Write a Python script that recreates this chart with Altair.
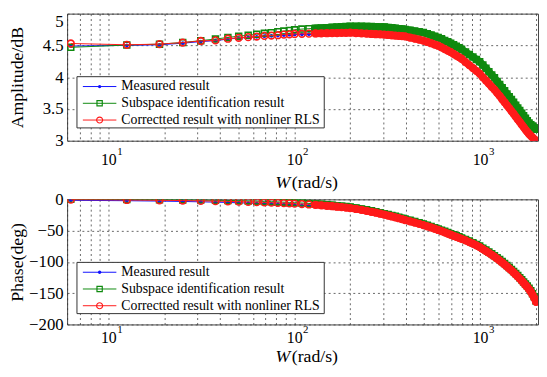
import altair as alt
import pandas as pd

# ---------------- data ----------------
W = [6.28, 12.57, 18.85, 25.13, 31.42, 37.70, 43.98, 50.27, 56.55, 62.83, 69.12, 75.40, 81.68, 87.96, 94.25, 100.5,
     110, 120, 130, 140, 150, 160, 170, 180, 190, 200,
     215, 230, 245, 260, 275, 290, 305, 320, 335, 350, 365, 380, 395,
     420, 445, 470, 495, 520, 545, 570, 595, 620, 645, 670, 695, 720, 745, 770, 795,
     835, 875, 915, 955, 995, 1035, 1075, 1115, 1155, 1195, 1235, 1275, 1315, 1355, 1395,
     1435, 1475, 1515, 1555, 1595, 1635, 1675, 1715, 1755, 1795, 1835, 1875, 1915, 1955, 2000]

amp_measured = [4.49, 4.50, 4.51, 4.535, 4.56, 4.575, 4.60, 4.615, 4.625, 4.635, 4.645, 4.65, 4.655, 4.663, 4.668, 4.672,
                4.675, 4.677, 4.679, 4.681, 4.683, 4.685, 4.686, 4.688, 4.689, 4.69,
                4.686, 4.681, 4.676, 4.671, 4.667, 4.663, 4.659, 4.654, 4.649, 4.644, 4.64, 4.635, 4.63,
                4.613, 4.595, 4.579, 4.562, 4.542, 4.522, 4.501, 4.481, 4.456, 4.429, 4.403, 4.378, 4.351, 4.323, 4.297, 4.271,
                4.217, 4.169, 4.123, 4.077, 4.033, 3.975, 3.925, 3.875, 3.825, 3.782, 3.73, 3.682, 3.63, 3.583, 3.535,
                3.491, 3.446, 3.404, 3.358, 3.316, 3.277, 3.235, 3.197, 3.159, 3.123, 3.092, 3.065, 3.04, 3.02, 3.0]

amp_subspace = [4.47, 4.505, 4.52, 4.545, 4.575, 4.60, 4.625, 4.645, 4.66, 4.675, 4.69, 4.70, 4.715, 4.725, 4.735, 4.745,
                4.757, 4.763, 4.769, 4.774, 4.779, 4.784, 4.788, 4.792, 4.796, 4.80,
                4.80, 4.80, 4.798, 4.796, 4.793, 4.791, 4.789, 4.783, 4.776, 4.770, 4.764, 4.758, 4.752,
                4.739, 4.726, 4.714, 4.702, 4.684, 4.664, 4.644, 4.625, 4.603, 4.579, 4.557, 4.534, 4.51, 4.486, 4.463, 4.44,
                4.396, 4.356, 4.318, 4.28, 4.244, 4.191, 4.14, 4.087, 4.036, 3.99, 3.934, 3.885, 3.834, 3.785, 3.737,
                3.692, 3.647, 3.604, 3.557, 3.514, 3.475, 3.432, 3.392, 3.353, 3.316, 3.28, 3.25, 3.23, 3.205, 3.18]

amp_corrected = [4.53, 4.51, 4.52, 4.545, 4.57, 4.58, 4.605, 4.62, 4.63, 4.64, 4.65, 4.655, 4.66, 4.67, 4.675, 4.68,
                 4.683, 4.685, 4.688, 4.69, 4.692, 4.694, 4.695, 4.697, 4.698, 4.70,
                 4.695, 4.69, 4.685, 4.68, 4.676, 4.673, 4.669, 4.664, 4.659, 4.654, 4.65, 4.645, 4.641,
                 4.624, 4.606, 4.59, 4.574, 4.554, 4.534, 4.514, 4.495, 4.47, 4.443, 4.418, 4.394, 4.367, 4.34, 4.315, 4.29,
                 4.237, 4.189, 4.144, 4.098, 4.055, 3.997, 3.948, 3.898, 3.848, 3.805, 3.753, 3.705, 3.653, 3.605, 3.557,
                 3.513, 3.467, 3.425, 3.378, 3.335, 3.296, 3.253, 3.214, 3.175, 3.138, 3.106, 3.078, 3.051, 3.024, 3.0]

ph_measured = [-1.5, -2.2, -2.8, -3.4, -4.0, -4.5, -5.0, -5.5, -6.0, -6.5, -7.0, -7.4, -7.8, -8.2, -8.6, -9.0,
               -9.5, -10.1, -10.7, -11.3, -11.9, -12.5, -13.2, -13.8, -14.4, -15.1,
               -16.4, -17.8, -19.2, -20.7, -22.1, -23.6, -25.1, -26.5, -27.9, -29.3, -30.7, -32.2, -33.6,
               -35.7, -37.6, -39.6, -41.6, -43.6, -45.5, -47.5, -49.5, -51.4, -53.3, -55.2, -57.1, -58.8, -60.4, -62.0, -63.7,
               -66.2, -68.8, -71.4, -74.1, -76.8, -80.1, -83.1, -86.1, -89.1, -92.2, -95.3, -98.4, -101.5, -104.7, -107.8,
               -111.0, -114.1, -117.4, -120.7, -124.0, -127.3, -130.7, -134.1, -137.5, -140.7, -144.3, -148.2, -152.9, -158.0, -164.5]

ph_subspace = [0.0, -0.3, -0.6, -0.9, -1.2, -1.5, -1.8, -2.1, -2.5, -2.9, -3.3, -3.7, -4.1, -4.5, -4.9, -5.3,
               -5.9, -6.6, -7.3, -8.0, -8.7, -9.4, -10.2, -10.9, -11.6, -12.4,
               -13.8, -15.3, -16.8, -18.3, -19.8, -21.4, -22.9, -24.3, -25.8, -27.2, -28.6, -30.1, -31.5,
               -33.6, -35.5, -37.5, -39.5, -41.5, -43.4, -45.4, -47.4, -49.3, -51.2, -53.1, -55.0, -56.7, -58.3, -59.9, -61.6,
               -64.1, -66.7, -69.3, -72.0, -74.7, -78.0, -81.0, -84.0, -87.0, -90.1, -93.2, -96.3, -99.4, -102.6, -105.7,
               -108.9, -112.0, -115.3, -118.6, -121.9, -125.2, -128.6, -132.0, -135.4, -138.6, -142.2, -146.1, -150.8, -155.9, -162.4]

ph_corrected = [-0.5, -1.0, -1.5, -2.0, -2.5, -2.9, -3.3, -3.7, -4.1, -4.5, -4.9, -5.3, -5.7, -6.1, -6.5, -6.9,
                -7.5, -8.2, -8.9, -9.6, -10.3, -11.0, -11.8, -12.5, -13.2, -14.0,
                -15.4, -16.9, -18.4, -19.9, -21.4, -23.0, -24.5, -25.9, -27.4, -28.8, -30.2, -31.7, -33.1,
                -35.2, -37.1, -39.1, -41.1, -43.1, -45.0, -47.0, -49.0, -50.9, -52.8, -54.7, -56.6, -58.3, -59.9, -61.5, -63.2,
                -65.7, -68.3, -70.9, -73.6, -76.3, -79.6, -82.6, -85.6, -88.6, -91.7, -94.8, -97.9, -101.0, -104.2, -107.3,
                -110.5, -113.6, -116.9, -120.2, -123.5, -126.8, -130.2, -133.6, -137.0, -140.2, -143.8, -147.7, -152.4, -157.5, -164.0]

series_names = ["Measured result", "Subspace identification result", "Correctted result with nonliner RLS"]

x_grid_values = [6, 7, 8, 9, 10, 20, 30, 40, 50, 60, 70, 80, 90, 100,
                 200, 300, 400, 500, 600, 700, 800, 900, 1000, 2000]
x_label_decades = [10, 100, 1000]
x_label_exponents = ["1", "2", "3"]
amp_ticks = [3, 3.5, 4, 4.5, 5]
phase_ticks = [0, -50, -100, -150, -200]

# ---------------- styling ----------------
FONT = "Liberation Serif"
COLORS = ["#1010ff", "#0f8a0f", "#ff1a1a"]
SHAPES = ["circle", "square", "circle"]
SIZES = [14, 36, 46]
FILLED = [True, False, False]
BAND_START = 130          # from here on the markers merge into a solid band
PW = 478
GRID = dict(gridDash=[2, 3], gridColor="#333333", gridOpacity=0.75, gridWidth=1)


def long_df(vals):
    rows = []
    for name, v in zip(series_names, vals):
        for w, y in zip(W, v):
            rows.append({"W": w, "value": y, "series": name})
    return pd.DataFrame(rows)


def panel(vals, ydomain, yticks, yfmt, ytitle, height, label_pad, title_off, flush_top):
    df = long_df(vals)
    xscale = alt.Scale(type="log", domain=[6, 2050], nice=False)
    xenc = alt.X("W:Q", scale=xscale,
                 axis=alt.Axis(values=x_grid_values,
                               labelExpr="(datum.value == 10 || datum.value == 100 || datum.value == 1000) ? '10' : ''",
                               title=None, grid=True, ticks=False, tickSize=0, domain=False,
                               labelFontSize=16, labelPadding=label_pad, labelBaseline="top",
                               labelFont=FONT, labelColor="black", **GRID))
    baseline = (alt.condition(f"datum.value == {ydomain[1]}", alt.value("top"), alt.value("middle"))
                if flush_top else "middle")
    yenc = alt.Y("value:Q", scale=alt.Scale(domain=ydomain, nice=False, zero=False),
                 axis=alt.Axis(values=yticks, format=yfmt, title=ytitle, grid=True, ticks=False,
                               tickSize=0, domain=False, labelFontSize=17, labelPadding=4,
                               labelBaseline=baseline,
                               labelFont=FONT, labelColor="black",
                               titleFont=FONT, titleFontSize=18, titleFontWeight="normal",
                               titleColor="black", titlePadding=3, minExtent=38, maxExtent=38, **GRID))
    layers = []
    for name, color, shape, size, fill in zip(series_names, COLORS, SHAPES, SIZES, FILLED):
        base = alt.Chart(df[df.series == name])
        layers.append(base.mark_line(color=color, strokeWidth=1, clip=True).encode(x=xenc, y=yenc))
        if not fill:
            # dense markers at high frequency merge into a solid band
            layers.append(base.transform_filter(alt.datum.W >= BAND_START)
                          .mark_line(color=color, strokeWidth=7.5, strokeCap="round", clip=True)
                          .encode(x=xenc, y=yenc))
        layers.append(base.mark_point(shape=shape, size=size, filled=fill, color=color,
                                      strokeWidth=1.6, opacity=1, clip=True).encode(x=xenc, y=yenc))
    # exponents of the decade labels
    exp_df = pd.DataFrame({"W": x_label_decades, "e": x_label_exponents})
    layers.append(alt.Chart(exp_df).mark_text(font=FONT, fontSize=11, align="left", baseline="top",
                                              dx=9, color="black")
                  .encode(x=xenc, y=alt.value(height + label_pad - 5), text="e:N"))
    # x title  W(rad/s)
    t1 = pd.DataFrame({"t": ["W"]})
    t2 = pd.DataFrame({"t": ["(rad/s)"]})
    layers.append(alt.Chart(t1).mark_text(font=FONT, fontSize=18, fontStyle="italic", align="right",
                                          baseline="middle", color="black")
                  .encode(x=alt.value(PW / 2 - 12.5), y=alt.value(height + title_off), text="t:N"))
    layers.append(alt.Chart(t2).mark_text(font=FONT, fontSize=18, align="left",
                                          baseline="middle", color="black")
                  .encode(x=alt.value(PW / 2 - 11), y=alt.value(height + title_off), text="t:N"))
    # legend box
    layers.append(alt.Chart(pd.DataFrame({"a": [0]})).mark_rect(fill="white", stroke="#333333", strokeWidth=1)
                  .encode(x=alt.value(10), x2=alt.value(261), y=alt.value(64), y2=alt.value(116)))
    for i, (name, color, shape, size, fill) in enumerate(zip(series_names, COLORS, SHAPES, SIZES, FILLED)):
        ry = 74 + 17 * i
        d = pd.DataFrame({"label": [name]})
        layers.append(alt.Chart(d).mark_rule(color=color, strokeWidth=1)
                      .encode(x=alt.value(16), x2=alt.value(50), y=alt.value(ry)))
        layers.append(alt.Chart(d).mark_point(shape=shape, size=size * 0.8, filled=fill, color=color,
                                              strokeWidth=1.2, opacity=1)
                      .encode(x=alt.value(33), y=alt.value(ry)))
        layers.append(alt.Chart(d).mark_text(font=FONT, fontSize=14, align="left", baseline="middle",
                                             color="black")
                      .encode(x=alt.value(55), y=alt.value(ry), text="label:N"))
    return alt.layer(*layers).properties(width=PW, height=height)


top = panel([amp_measured, amp_subspace, amp_corrected], [3, 5], amp_ticks, "~g",
            "Amplitude/dB", 129, 11, 43, True)
bottom = panel([ph_measured, ph_subspace, ph_corrected], [-200, 0], phase_ticks, "d",
               "Phase(deg)", 127, 5, 33, False)

chart = (alt.vconcat(top, bottom, spacing=-3.5)
         .properties(padding={"left": 0, "top": 1, "right": 0, "bottom": 0})
         .configure(font=FONT)
         .configure_view(stroke="#444444", strokeWidth=1))

chart.save("out.html", embed_options={"renderer": "svg", "actions": False})
